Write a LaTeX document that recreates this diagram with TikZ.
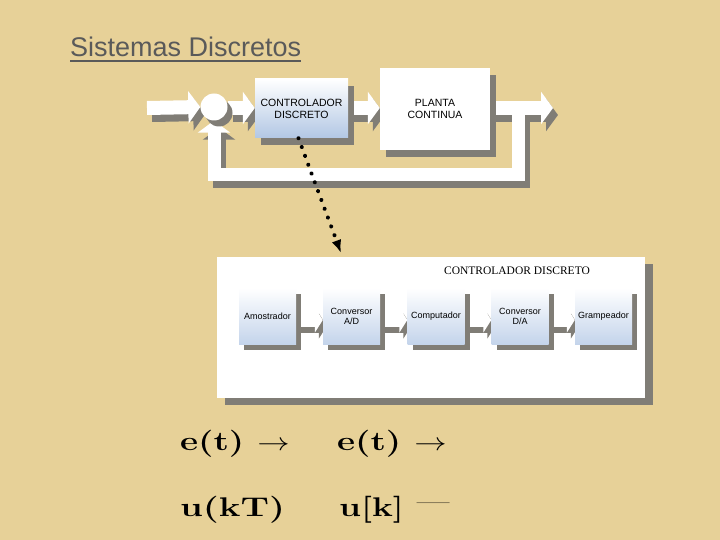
\documentclass[tikz,border=0pt]{standalone}
\usepackage{fontspec}
\usepackage{graphicx}
\newfontfamily\arialf{Liberation Sans}
\newfontfamily\timesf{Liberation Serif}
\usetikzlibrary{arrows.meta,shadows,calc}
\definecolor{bgtan}{RGB}{231,209,152}
\definecolor{shd}{RGB}{128,125,118}
\definecolor{boxblue}{RGB}{178,199,228}
\definecolor{lboxblue}{RGB}{196,212,235}
\definecolor{titlegray}{RGB}{90,90,90}
\pgfdeclarelayer{bg}
\pgfdeclarelayer{bshd}
\pgfdeclarelayer{bnd}
\pgfsetlayers{bg,bshd,bnd,main}
\begin{document}
\begin{tikzpicture}[x=1pt,y=-1pt,
  band/.style={draw=white,line width=14pt,-{Triangle[width=32pt,length=12pt,fill=white]}},
  bandshd/.style={draw=shd,line width=14pt,-{Triangle[width=32pt,length=12pt,fill=shd]},
     transform canvas={xshift=5pt,yshift=-7pt}},
  lband/.style={draw=white,line width=13pt,-{Triangle[width=25pt,length=8pt,fill=white]}},
  lbandshd/.style={draw=shd,line width=13pt,-{Triangle[width=25pt,length=8pt,fill=shd]},
     transform canvas={xshift=4pt,yshift=-6pt}},
  shd3d/.style={drop shadow={shadow xshift=6pt,shadow yshift=-7pt,fill=shd,opacity=1}},
  lshd3d/.style={drop shadow={shadow xshift=5pt,shadow yshift=-6pt,fill=shd,opacity=1}},
  bigbox/.style={shd3d,inner sep=0pt,align=center,font=\arialf\fontsize{10.5}{12}\selectfont},
  lbox/.style={lshd3d,minimum width=57pt,minimum height=56pt,inner sep=0pt,align=center,
     top color=white,bottom color=lboxblue,font=\arialf\fontsize{9}{10}\selectfont},
  dotarrow/.style={black,line width=4pt,line cap=round,dash pattern=on 0.1pt off 9.3pt,
     -{Latex[length=13pt,width=10pt]}},
  mathtext/.style={anchor=base west,inner sep=0pt,font=\fontsize{27}{30}\selectfont\bfseries}
]
\useasboundingbox (0,0) rectangle (720,540);
\begin{pgfonlayer}{bg}
\fill[bgtan] (0,0) rectangle (720,540);
\node[fill=white,minimum width=428pt,minimum height=141pt,inner sep=0pt,
  drop shadow={shadow xshift=8pt,shadow yshift=-7pt,fill=shd,opacity=1}] (panel) at (431,327.5) {};
\end{pgfonlayer}

% title
\node[anchor=base west,inner sep=0pt,text=titlegray,font=\arialf\fontsize{27}{30}\selectfont] (title) at (70,57) {Sistemas Discretos};
\draw[titlegray,line width=2.2pt] ([yshift=-4pt]title.base west) -- ([yshift=-4pt]title.base east);

% top diagram nodes
\node[circle,fill=white,minimum size=27pt,inner sep=0pt,
  drop shadow={shadow xshift=5pt,shadow yshift=-6pt,fill=shd,opacity=1}] (sum) at (214,107) {};
\node[bigbox,minimum width=93pt,minimum height=59pt,top color=white,bottom color=boxblue] (ctrl) at (301.5,108.5) {CONTROLADOR\\DISCRETO};
\node[bigbox,minimum width=110pt,minimum height=82pt,fill=white] (plant) at (435,109) {PLANTA\\CONTINUA};
\coordinate (in) at (147,108);
\coordinate (out) at (553,108);
\coordinate (fb) at (518,108);
\coordinate (fbb) at (518,175);

\begin{pgfonlayer}{bshd}
\draw[bandshd] (in) -- (sum.west);
\draw[bandshd] (sum.east |- in) -- (ctrl.west |- in);
\draw[bandshd] (ctrl.east |- in) -- (plant.west |- in);
\draw[bandshd] (plant.east |- in) -- (out);
\draw[bandshd,line width=13pt] (fb) -- (fbb) -| (sum.south);
\end{pgfonlayer}
\begin{pgfonlayer}{bnd}
\draw[band] (in) -- (sum.west);
\draw[band] (sum.east |- in) -- (ctrl.west |- in);
\draw[band] (ctrl.east |- in) -- (plant.west |- in);
\draw[band] (plant.east |- in) -- (out);
\draw[band,line width=13pt] (fb) -- (fbb) -| (sum.south);
\end{pgfonlayer}

% lower panel
\node[font=\timesf\fontsize{11.5}{13}\selectfont] (ptitle) at (517,271) {CONTROLADOR DISCRETO};
\node[lbox] (b1) at (267.5,316) {Amostrador};
\node[lbox] (b2) at (351.5,316) {Conversor\\A/D};
\node[lbox] (b3) at (436,316) {Computador};
\node[lbox] (b4) at (520,316) {Conversor\\D/A};
\node[lbox] (b5) at (603.5,316) {Grampeador};
\begin{pgfonlayer}{bshd}
\foreach \a/\b in {b1/b2,b2/b3,b3/b4,b4/b5}
  \draw[lbandshd] ([yshift=-4pt]\a.east) -- ([yshift=-4pt]\b.west);
\end{pgfonlayer}
\begin{pgfonlayer}{bnd}
\foreach \a/\b in {b1/b2,b2/b3,b3/b4,b4/b5}
  \draw[lband] ([yshift=-4pt]\a.east) -- ([yshift=-4pt]\b.west);
\end{pgfonlayer}

% dotted arrow
\coordinate (dotend) at (341,253);
\draw[dotarrow] ([xshift=-3pt]ctrl.south) -- (dotend);

% bottom formulas
\node[mathtext] (e1) at (180,450) {\scalebox{1.3}[1]{e(t)~{\mdseries$\rightarrow$}}};
\node[mathtext] (e2) at (337,450) {\scalebox{1.3}[1]{e(t)~{\mdseries$\rightarrow$}}};
\node[mathtext] (u1) at (180,516) {\scalebox{1.35}[1]{u(kT)}};
\node[mathtext] (u2) at (339,516) {\scalebox{1.3}[1]{u[k]~\raisebox{0.2em}{\mdseries ---}}};
\end{tikzpicture}
\end{document}
